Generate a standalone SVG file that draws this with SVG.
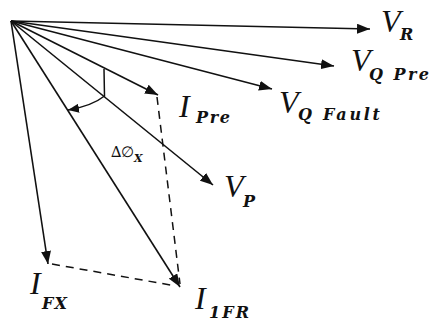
<svg xmlns="http://www.w3.org/2000/svg" width="430" height="323" viewBox="0 0 430 323">
<style>
.v{stroke:#111;stroke-width:1.6;fill:none;marker-end:url(#ah)}
.d{stroke:#111;stroke-width:1.5;fill:none;stroke-dasharray:8 6}
.m{font-family:"Liberation Serif",serif;font-style:italic;font-size:32px;fill:#111}
.s{font-family:"DejaVu Serif",serif;font-style:italic;font-weight:bold;font-size:16px;fill:#111}
.g{font-family:"DejaVu Serif",serif;font-size:15px;fill:#111}
</style>
<defs>
<marker id="ah" markerWidth="13" markerHeight="10" refX="13" refY="5" orient="auto" markerUnits="userSpaceOnUse"><path d="M0,0 L13,5 L0,10 z" fill="#111"/></marker>
<marker id="ah2" markerWidth="11" markerHeight="9" refX="11" refY="4.5" orient="auto" markerUnits="userSpaceOnUse"><path d="M0,0 L11,4.5 L0,9 z" fill="#111"/></marker>
</defs>
<g id="connectors">
<line class="v" x1="11" y1="21" x2="370" y2="29"/>
<line class="v" x1="11" y1="21" x2="334" y2="66"/>
<line class="v" x1="11" y1="21" x2="272" y2="89"/>
<line class="v" x1="11" y1="21" x2="158" y2="95"/>
<line class="v" x1="11" y1="21" x2="213" y2="185"/>
<line class="v" x1="11" y1="21" x2="180" y2="287"/>
<line class="v" x1="11" y1="21" x2="48" y2="264"/>
<line class="d" x1="52" y1="264" x2="176" y2="286"/>
<line class="d" x1="157" y1="97" x2="180" y2="284"/>
<path d="M104,69 L104.5,96 Q92,106 68,110" stroke="#111" stroke-width="1.5" fill="none" marker-end="url(#ah2)"/>
</g>
<g id="VR"><text class="m" x="381" y="32">V</text><text class="s" x="400" y="40">R</text></g>
<g id="VQPre"><text class="m" x="351" y="71">V</text><text class="s" x="369" y="80" textLength="60" lengthAdjust="spacing">Q Pre</text></g>
<g id="VQFault"><text class="m" x="279" y="113">V</text><text class="s" x="298" y="120" textLength="82" lengthAdjust="spacing">Q Fault</text></g>
<g id="IPre"><text class="m" x="179" y="117">I</text><text class="s" x="196" y="123" textLength="34" lengthAdjust="spacing">Pre</text></g>
<g id="dphi"><text class="g" x="111" y="157">∆∅</text><text class="s" x="134" y="162" style="font-size:11px">X</text></g>
<g id="VP"><text class="m" x="224" y="197">V</text><text class="s" x="243" y="207">P</text></g>
<g id="IFx"><text class="m" x="30" y="294">I</text><text class="s" x="42" y="309" textLength="25" lengthAdjust="spacing">FX</text></g>
<g id="I1FR"><text class="m" x="195" y="309">I</text><text class="s" x="209" y="318" textLength="40" lengthAdjust="spacing">1FR</text></g>
</svg>
